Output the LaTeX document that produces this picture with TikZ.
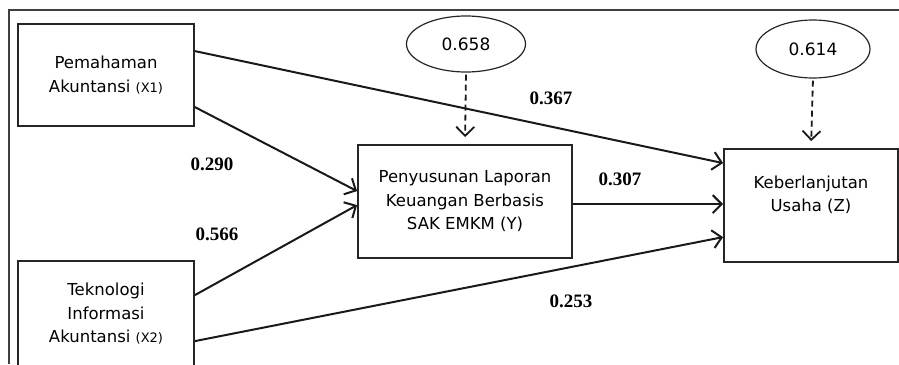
\documentclass[tikz,border=0pt]{standalone}
\usepackage{fontspec}
\setmainfont{DejaVu Sans}
\newfontfamily\numfont{Liberation Serif}
\usetikzlibrary{arrows.meta,shapes.geometric,calc}
\begin{document}
\begin{tikzpicture}[x=1pt,y=-1pt,
  box/.style={draw=black!85,line width=1.8pt,minimum width=176pt,minimum height=102pt,inner sep=0pt,align=center,font=\fontsize{16.5}{23.5}\selectfont},
  txt/.style={align=center,inner sep=0pt,font=\fontsize{16.5}{23.5}\selectfont},
  oval/.style={draw=black!85,ellipse,line width=1.2pt,inner sep=0pt,font=\fontsize{17}{20}\selectfont},
  path/.style={draw=black!90,line width=2pt,-{Straight Barb[length=9pt,width=18pt,line width=2pt]}},
  dpath/.style={draw=black!90,line width=1.8pt,dash pattern=on 6pt off 4pt,-{Straight Barb[length=9pt,width=18pt,line width=1.8pt]},shorten >=7pt,shorten <=2pt},
  coef/.style={font=\numfont\bfseries\fontsize{19}{22}\selectfont,inner sep=0pt}]
\useasboundingbox (0,0) rectangle (899,364);
\draw[black!75,line width=1.4pt] (9,364) -- (9,10) -- (899,10);
\node[box] (x1) at (106,75) {Pemahaman\\Akuntansi {\fontsize{13}{20}\selectfont(X1)}};
\node[box,minimum height=130pt] (x2) at (106,326) {};
\node[txt] (x2t) at (106,314) {Teknologi\\Informasi\\Akuntansi {\fontsize{13}{20}\selectfont(X2)}};
\node[box,minimum width=214pt,minimum height=113pt] (y) at (465,201.5) {Penyusunan Laporan\\Keuangan Berbasis\\SAK EMKM (Y)};
\node[box,minimum width=174pt,minimum height=113pt] (z) at (811,205.5) {};
\node[txt] (zt) at (811,195) {Keberlanjutan\\Usaha (Z)};
\node[oval,minimum width=119pt,minimum height=56pt] (e1) at (466,44) {0.658};
\node[oval,minimum width=114pt,minimum height=58pt] (e2) at (813,49) {0.614};
\draw[dpath] (e1.south) -- (y.north);
\draw[dpath] (e2.south) -- (z.north);
\draw[path] ([yshift=-28pt]x1.north east) -- ([yshift=-15pt]z.north west);
\draw[path] ([yshift=-84pt]x1.north east) -- ([yshift=-47pt]y.north west);
\draw[path] ([yshift=-35pt]x2.north east) -- ([yshift=-61pt]y.north west);
\draw[path] ([yshift=-60pt]y.north east) -- ([yshift=-56pt]z.north west);
\draw[path] ([yshift=-81pt]x2.north east) -- ([yshift=-89pt]z.north west);
\node[coef] (c1) at (212,164) {0.290};
\node[coef] (c2) at (217,234) {0.566};
\node[coef] (c3) at (551,98) {0.367};
\node[coef] (c4) at (620,179) {0.307};
\node[coef] (c5) at (571,301) {0.253};
\end{tikzpicture}
\end{document}
